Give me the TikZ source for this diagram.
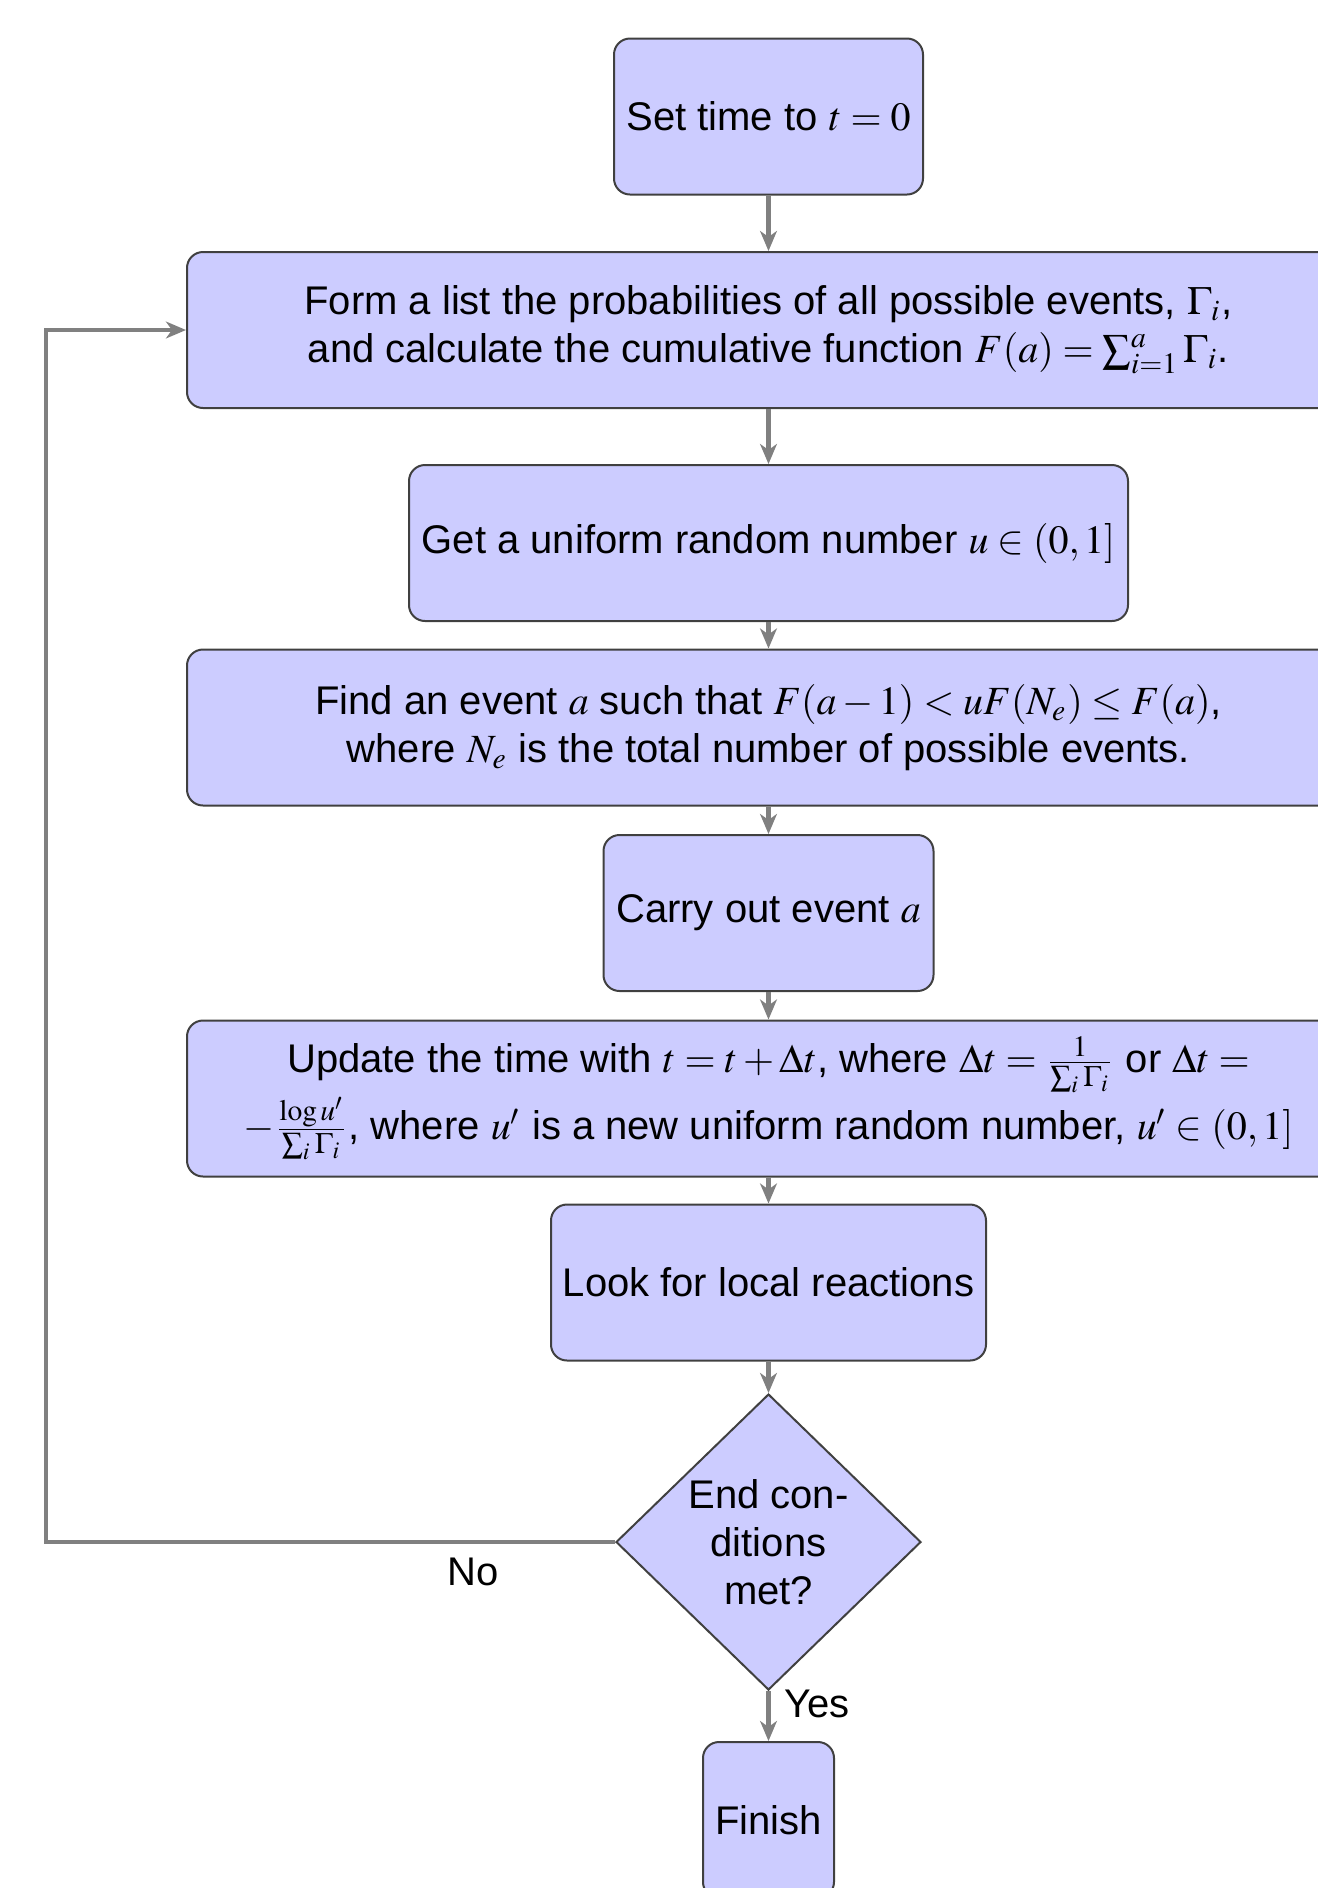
\documentclass[tikz,border=0pt]{standalone}
\usepackage{mathptmx}
\usepackage[no-math]{fontspec}
\setmainfont{Liberation Sans}
\usetikzlibrary{shapes.geometric,arrows.meta}
\tikzset{
  blockbox/.style={rectangle, draw=black!75, line width=0.5pt, fill=blue!20, rounded corners=4pt, align=center, inner sep=0pt, minimum height=39pt},
  decbox/.style={diamond, draw=black!75, line width=0.5pt, fill=blue!20, align=center, inner sep=0pt, minimum width=76.25pt, minimum height=74pt},
  flowline/.style={draw=black!50, line width=1.1pt, -{Stealth[length=5pt,width=4.2pt,inset=1.5pt]}},
}
\begin{document}
\begin{tikzpicture}[x=0.25pt,y=-0.25pt]
\useasboundingbox (0,0) rectangle (1318,1888);
\node[blockbox, minimum width=77.25pt] (b1) at (768.5,116.5) {Set time to $t=0$};
\node[blockbox, minimum width=290.75pt] (b2) at (768.5,330) {Form a list the probabilities of all possible events, $\Gamma_i$,\\ and calculate the cumulative function $F(a)=\sum_{i=1}^{a}\Gamma_i$.};
\node[blockbox, minimum width=179.75pt] (b3) at (768.5,543) {Get a uniform random number $u\in(0,1]$};
\node[blockbox, minimum width=290.75pt] (b4) at (768.5,727.5) {Find an event $a$ such that $F(a-1)<uF(N_e)\leq F(a)$,\\ where $N_e$ is the total number of possible events.};
\node[blockbox, minimum width=82.5pt] (b5) at (768.5,913) {Carry out event $a$};
\node[blockbox, minimum width=290.75pt] (b6) at (768.5,1098.5) {Update the time with $t=t+\Delta t$, where $\Delta t=\frac{1}{\sum_i\Gamma_i}$ or $\Delta t=$\\ $-\frac{\log u'}{\sum_i\Gamma_i}$, where $u'$ is a new uniform random number, $u'\in(0,1]$};
\node[blockbox, minimum width=108.75pt] (b7) at (768.5,1282.5) {Look for local reactions};
\node[decbox] (dec) at (768.5,1542) {End con-\\ditions\\met?};
\node[blockbox, minimum width=32.75pt] (fin) at (768.5,1820) {Finish};
\coordinate (lp) at (46,1542);
\draw[flowline] (b1) -- (b2);
\draw[flowline] (b2) -- (b3);
\draw[flowline] (b3) -- (b4);
\draw[flowline] (b4) -- (b5);
\draw[flowline] (b5) -- (b6);
\draw[flowline] (b6) -- (b7);
\draw[flowline] (b7) -- (dec);
\draw[flowline] (dec) -- node[right, pos=0.25] {Yes} (fin);
\draw[flowline] (dec.west) -- node[below, pos=0.25] {No} (lp) |- (b2.west);
\end{tikzpicture}
\end{document}
